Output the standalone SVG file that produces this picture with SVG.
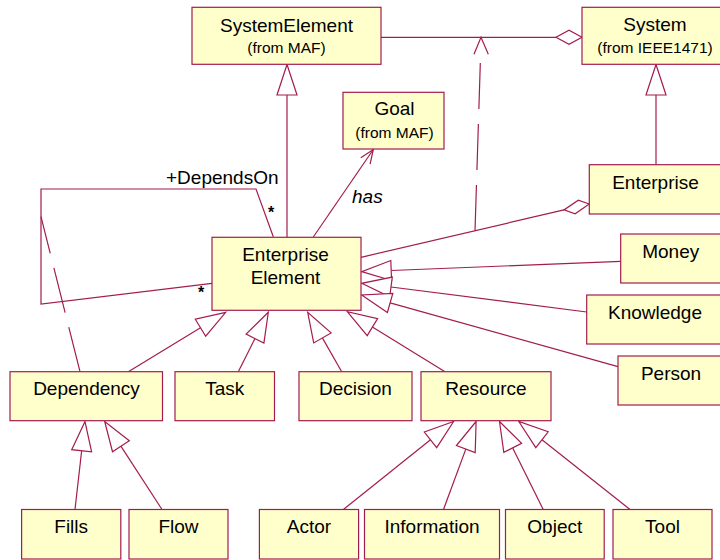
<svg xmlns="http://www.w3.org/2000/svg" width="720" height="560" viewBox="0 0 720 560">
<style>
.box{fill:#ffffcc;stroke:#a31c4f;stroke-width:1.2}
.ln{fill:none;stroke:#a31c4f;stroke-width:1.2}
.tri{fill:#ffffff;stroke:#a31c4f;stroke-width:1.2}
.dia{fill:#ffffff;stroke:#a31c4f;stroke-width:1.2}
.dash{fill:none;stroke:#a31c4f;stroke-width:1.2;stroke-dasharray:46 15}
.t{font-family:"Liberation Sans",Arial,sans-serif;font-size:19px;fill:#000;text-anchor:middle}
.s{font-family:"Liberation Sans",Arial,sans-serif;font-size:15.5px;fill:#000;text-anchor:middle}
.lbl{font-family:"Liberation Sans",Arial,sans-serif;font-size:19px;fill:#000}
.m{font-family:"Liberation Sans",Arial,sans-serif;font-size:16px;font-weight:bold;fill:#000;text-anchor:middle}
</style>
<rect width="720" height="560" fill="#ffffff"/>
<g id="connectors">
  <!-- EnterpriseElement to SystemElement generalization -->
  <line class="ln" x1="287" y1="95" x2="287" y2="237"/>
  <polygon class="tri" points="287,64.5 277,95 297,95"/>
  <!-- Enterprise to System generalization -->
  <line class="ln" x1="656" y1="95" x2="656" y2="165"/>
  <polygon class="tri" points="656,64.5 646,95 666,95"/>
  <!-- SystemElement - System aggregation -->
  <line class="ln" x1="381" y1="37.3" x2="556" y2="37.3"/>
  <polygon class="dia" points="582,37.3 569,30.3 556,37.3 569,44.3"/>
  <!-- dashed dependency to association -->
  <line class="dash" x1="475" y1="231" x2="480.6" y2="54"/>
  <polyline class="ln" points="474,54.3 481,37.3 488.3,54.3"/>
  <!-- EnterpriseElement - Enterprise aggregation -->
  <line class="ln" x1="361" y1="257.3" x2="564" y2="209.9"/>
  <polygon class="dia" points="589.3,204 578.3,200.2 564,209.9 575.1,213.8"/>
  <!-- has association to Goal -->
  <line class="ln" x1="313.3" y1="237" x2="373.3" y2="149.5"/>
  <polyline class="ln" points="360.8,157.8 373.3,149.5 370.1,164.2"/>
  <!-- DependsOn self association -->
  <polyline class="ln" points="273.3,236.7 256,189 41,189 41,304 212,283.3"/>
  <!-- Dependency dashed link -->
  <line class="dash" x1="80" y1="371.7" x2="41" y2="216.7"/>
  <!-- generalizations into Enterprise Element -->
  <line class="ln" x1="200.5" y1="327.7" x2="128.3" y2="371.7"/>
  <polygon class="tri" points="225.7,312.3 195.3,319.2 205.7,336.2"/>
  <line class="ln" x1="255" y1="338.6" x2="238.3" y2="371.7"/>
  <polygon class="tri" points="268.3,312.3 246.1,334.1 263.9,343.1"/>
  <line class="ln" x1="322.4" y1="337.9" x2="341.7" y2="371.7"/>
  <polygon class="tri" points="307.7,312.3 313.7,342.9 331.1,332.9"/>
  <line class="ln" x1="372.4" y1="327.1" x2="445" y2="371.7"/>
  <polygon class="tri" points="347.3,311.7 367.2,335.6 377.6,318.6"/>
  <line class="ln" x1="391.2" y1="270.5" x2="620.7" y2="261.3"/>
  <polygon class="tri" points="361.7,271.7 391.6,280.5 390.8,260.5"/>
  <line class="ln" x1="391" y1="287" x2="586.7" y2="312"/>
  <polygon class="tri" points="361.7,283.3 389.7,296.9 392.3,277.1"/>
  <line class="ln" x1="390.1" y1="302.9" x2="618" y2="366.7"/>
  <polygon class="tri" points="361.7,295 387.4,312.5 392.8,293.3"/>
  <!-- generalizations into Dependency -->
  <line class="ln" x1="81.65" y1="450.8" x2="75" y2="509.5"/>
  <polygon class="tri" points="85,421.5 71.7,449.7 91.6,451.9"/>
  <line class="ln" x1="120.9" y1="446.2" x2="162" y2="509.5"/>
  <polygon class="tri" points="104.7,421.5 112.5,451.7 129.3,440.7"/>
  <!-- generalizations into Resource -->
  <line class="ln" x1="430.5" y1="439.8" x2="343.4" y2="509.5"/>
  <polygon class="tri" points="453.6,421.5 424.3,432 436.7,447.6"/>
  <line class="ln" x1="465.8" y1="449.1" x2="443.5" y2="509.5"/>
  <polygon class="tri" points="476.1,421.5 456.4,445.6 475.2,452.6"/>
  <line class="ln" x1="512.7" y1="447.9" x2="543.2" y2="509.5"/>
  <polygon class="tri" points="499.5,421.5 503.8,452.4 521.6,443.4"/>
  <line class="ln" x1="542" y1="439.7" x2="630" y2="509.5"/>
  <polygon class="tri" points="518.8,421.5 535.8,447.6 548.2,431.8"/>
  <!-- labels -->
  <text class="lbl" x="166" y="184">+DependsOn</text>
  <text class="m" x="271" y="218">*</text>
  <text class="m" x="201" y="298">*</text>
  <text class="lbl" x="352" y="202.5" font-style="italic">has</text>
</g>
<g id="SystemElement"><rect class="box" x="192" y="7.3" width="189" height="57"/><text class="t" x="286.5" y="31.5">SystemElement</text><text class="s" x="286.5" y="53.3">(from MAF)</text></g>
<g id="System"><rect class="box" x="582" y="7.3" width="146" height="57"/><text class="t" x="655" y="31">System</text><text class="s" x="655" y="53.3">(from IEEE1471)</text></g>
<g id="Goal"><rect class="box" x="343" y="92.3" width="101" height="56.7"/><text class="t" x="394.5" y="115.3">Goal</text><text class="s" x="394.5" y="137.5">(from MAF)</text></g>
<g id="Enterprise"><rect class="box" x="589.3" y="164.7" width="134" height="49.3"/><text class="t" x="655.5" y="188.5">Enterprise</text></g>
<g id="EnterpriseElement"><rect class="box" x="212" y="237.3" width="149" height="73"/><text class="t" x="285.5" y="260.7">Enterprise</text><text class="t" x="285.5" y="284.3">Element</text></g>
<g id="Money"><rect class="box" x="620.7" y="234" width="101" height="49"/><text class="t" x="670.7" y="257.7">Money</text></g>
<g id="Knowledge"><rect class="box" x="586.7" y="295" width="137" height="49"/><text class="t" x="655" y="318.7">Knowledge</text></g>
<g id="Person"><rect class="box" x="618" y="356" width="106" height="49"/><text class="t" x="671" y="379.7">Person</text></g>
<g id="Dependency"><rect class="box" x="10" y="371.7" width="152.5" height="49"/><text class="t" x="86.5" y="395.2">Dependency</text></g>
<g id="Task"><rect class="box" x="175" y="371.7" width="99.5" height="49"/><text class="t" x="224.7" y="395.2">Task</text></g>
<g id="Decision"><rect class="box" x="299" y="371.7" width="113" height="49"/><text class="t" x="355.5" y="395.2">Decision</text></g>
<g id="Resource"><rect class="box" x="421" y="371.7" width="130" height="49"/><text class="t" x="486" y="395.2">Resource</text></g>
<g id="Fills"><rect class="box" x="21.6" y="509.5" width="99.2" height="49.5"/><text class="t" x="71.2" y="533">Fills</text></g>
<g id="Flow"><rect class="box" x="129" y="509.5" width="99" height="49.5"/><text class="t" x="178.5" y="533">Flow</text></g>
<g id="Actor"><rect class="box" x="259.4" y="509.5" width="99.2" height="49.5"/><text class="t" x="309" y="533">Actor</text></g>
<g id="Information"><rect class="box" x="364.5" y="509.5" width="135" height="49.5"/><text class="t" x="432" y="533">Information</text></g>
<g id="Object"><rect class="box" x="505.5" y="509.5" width="98.7" height="49.5"/><text class="t" x="554.8" y="533">Object</text></g>
<g id="Tool"><rect class="box" x="613" y="509.5" width="99" height="49.5"/><text class="t" x="662.5" y="533">Tool</text></g>
</svg>
